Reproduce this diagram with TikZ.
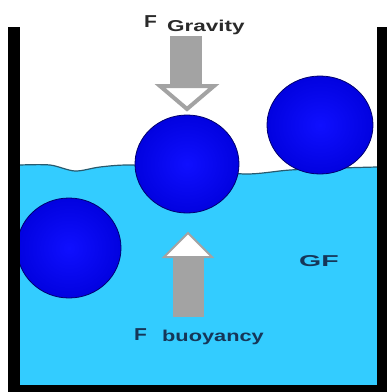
\documentclass[tikz,border=0pt]{standalone}
\usepackage{fontspec}
\usepackage{tikz}
\newfontfamily\labelfont{Liberation Sans}
\definecolor{water}{RGB}{51,204,255}
\definecolor{surf}{RGB}{40,90,110}
\definecolor{spherein}{RGB}{15,15,255}
\definecolor{spheremid}{RGB}{0,0,220}
\definecolor{sphereout}{RGB}{0,0,165}
\definecolor{sphereedge}{RGB}{0,0,110}
\definecolor{force}{RGB}{163,163,163}
\definecolor{inkgrav}{RGB}{42,42,42}
\definecolor{inkwater}{RGB}{22,54,88}
\pgfdeclareradialshading{sphereshade}{\pgfpoint{0bp}{0bp}}{color(0bp)=(spherein);
  color(28bp)=(spheremid); color(50bp)=(sphereout)}
\tikzset{
  sphere/.style={draw=sphereedge,line width=0.8pt,shading=sphereshade},
  shaft/.style={fill=force},
  head/.style={draw=force,fill=white,line join=miter},
  wall/.style={fill=black},
  lbl/.style={font=\labelfont\bfseries\fontsize{15}{15}\selectfont,inner sep=0pt,anchor=base west},
}

\begin{document}
\begin{tikzpicture}[x=1pt,y=-1pt]
  \useasboundingbox (0,0) rectangle (388,392);
  % water and its surface
  \fill[water] plot[smooth] coordinates {(20,165) (50,165) (75,171) (100,167) (130,165)
      (187,168) (245,174) (290,170) (340,168) (377,167)} -- (377,386) -- (20,386) -- cycle;
  \draw[surf,line width=1.2pt] plot[smooth] coordinates {(20,165) (50,165) (75,171) (100,167)
      (130,165) (187,168) (245,174) (290,170) (340,168) (377,167)};
  % spheres
  \shadedraw[sphere] (320,125) ellipse[x radius=53,y radius=49];
  \shadedraw[sphere] (187,164) ellipse[x radius=52,y radius=49];
  \shadedraw[sphere] (69,248) ellipse[x radius=52,y radius=50];
  % forces
  \fill[shaft] (170,36) rectangle (202,84);
  \draw[head,line width=4pt] (160,86) -- (214,86) -- (187,109) -- cycle;
  \fill[shaft] (173,258) rectangle (204,317);
  \draw[head,line width=2pt] (164,257) -- (212,257) -- (188,233) -- cycle;
  % container
  \fill[wall] (8,27) rectangle (20,392);
  \fill[wall] (377,27) rectangle (387,392);
  \fill[wall] (8,385) rectangle (387,392);
  % labels
  \node[lbl,text=inkgrav] (fg) at (144,27) {\scalebox{1.4}[1.15]{F}};
  \node[lbl,text=inkgrav] (grav) at (167,31) {\scalebox{1.5}[1.05]{Gravity}};
  \node[lbl,text=inkwater] (fb) at (134,340) {\scalebox{1.4}[1.15]{F}};
  \node[lbl,text=inkwater] (buoy) at (162,341) {\scalebox{1.45}[1.05]{buoyancy}};
  \node[lbl,text=inkwater] (gf) at (299,266) {\scalebox{1.9}[1.05]{GF}};
\end{tikzpicture}
\end{document}
